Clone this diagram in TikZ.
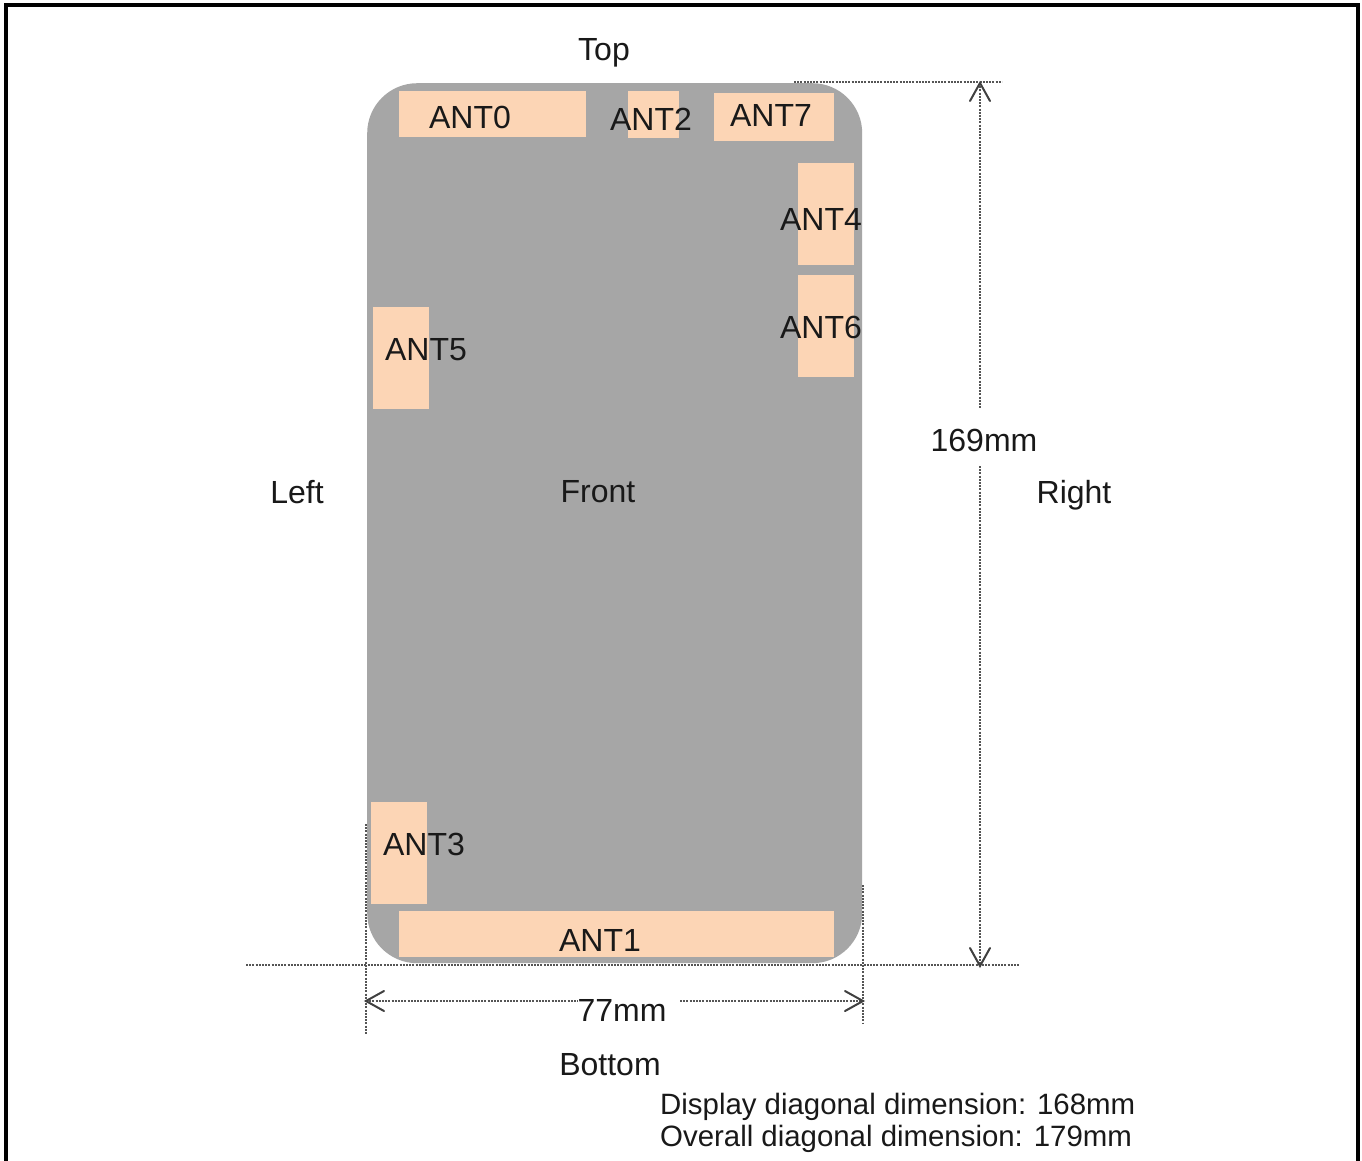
\documentclass[tikz,border=0pt]{standalone}
\usepackage{fontspec}
\setmainfont{Liberation Sans}
\definecolor{body}{HTML}{A6A6A6}
\definecolor{ant}{HTML}{FCD5B5}
\definecolor{dim}{HTML}{555555}
\tikzset{
  pad/.style={fill=ant,draw=none,inner sep=0pt,anchor=north west},
  lbl/.style={inner sep=0pt,font=\fontsize{32}{36}\selectfont,text=black!90},
  note/.style={inner sep=0pt,anchor=west,font=\fontsize{29.4}{32}\selectfont,text=black!90},
  dimline/.style={draw=dim,line width=2pt,dash pattern=on 2pt off 1.2pt},
  tip/.style={draw=black!75,line width=2pt,line cap=round},
}
\begin{document}
\begin{tikzpicture}[x=1pt,y=-1pt]
\useasboundingbox (0,0) rectangle (1362,1160);
\fill[white] (0,0) rectangle (1362,1160);
\draw[black,line width=4pt] (6,1165) -- (6,5) -- (1358,5) -- (1358,1165);
\node[fill=body,draw=none,inner sep=0pt,rounded corners=50pt,anchor=north west,minimum width=495pt,minimum height=880pt] (phone) at (367,83) {};
\node[pad,minimum width=187pt,minimum height=46pt] (r0) at (399,91) {};
\node[pad,minimum width=51pt,minimum height=47pt] (r2) at (627.5,91) {};
\node[pad,minimum width=120pt,minimum height=48pt] (r7) at (714,93) {};
\node[pad,minimum width=56pt,minimum height=102pt] (r4) at (798,163) {};
\node[pad,minimum width=56pt,minimum height=102pt] (r6) at (798,275) {};
\node[pad,minimum width=56pt,minimum height=102pt] (r5) at (373,307) {};
\node[pad,minimum width=56pt,minimum height=102pt] (r3) at (371,802) {};
\node[pad,minimum width=435pt,minimum height=46pt] (r1) at (399,911) {};
\node[lbl] (t0) at (470,117.5) {ANT0};
\node[lbl] (t2) at (651,119.5) {ANT2};
\node[lbl] (t7) at (771,115.5) {ANT7};
\node[lbl] (t4) at (821,219.5) {ANT4};
\node[lbl] (t6) at (821,327.5) {ANT6};
\node[lbl] (t5) at (426,350) {ANT5};
\node[lbl] (t3) at (424,844) {ANT3};
\node[lbl] (t1) at (600,940) {ANT1};
\node[lbl] (top) at (604,53) {Top};
\node[lbl] (left) at (297,492) {Left};
\node[lbl] (front) at (598,492) {Front};
\node[lbl] (right) at (1074,495) {Right};
\node[lbl] (bottom) at (610,1065) {Bottom};
\node[lbl] (h) at (984,440.5) {169mm};
\node[lbl] (w) at (622,1010) {77mm};
\node[note] (n1) at (660,1107) {Display diagonal dimension: 168mm};
\node[note] (n2) at (660,1139) {Overall diagonal dimension: 179mm};
\coordinate (tl) at (794,82);
\coordinate (tr) at (1002,82);
\coordinate (bl) at (246,965);
\coordinate (br) at (1019,965);
\coordinate (vlt) at (366,824);
\coordinate (vlb) at (366,1035);
\coordinate (vrt) at (863,885);
\coordinate (vrb) at (863,1023);
\coordinate (ht) at (980,83);
\coordinate (hb) at (980,966);
\coordinate (wl) at (366,1001);
\coordinate (wr) at (863,1001);
\draw[dimline] (tl) -- (tr);
\draw[dimline] (bl) -- (br);
\draw[dimline] (vlt) -- (vlb);
\draw[dimline] (vrt) -- (vrb);
\draw[dimline] (ht) -- ([yshift=21pt]h.north -| ht);
\draw[dimline] ([yshift=-14pt]h.south -| hb) -- (hb);
\draw[dimline] (wl) -- (w.west |- wl);
\draw[dimline] (680,1001) -- (wr);
\draw[tip] ([shift={(-10,18)}]ht) -- (ht) -- ([shift={(10,18)}]ht);
\draw[tip] ([shift={(-10,-18)}]hb) -- (hb) -- ([shift={(10,-18)}]hb);
\draw[tip] ([shift={(18,-10)}]wl) -- (wl) -- ([shift={(18,10)}]wl);
\draw[tip] ([shift={(-18,-10)}]wr) -- (wr) -- ([shift={(-18,10)}]wr);
\end{tikzpicture}
\end{document}
